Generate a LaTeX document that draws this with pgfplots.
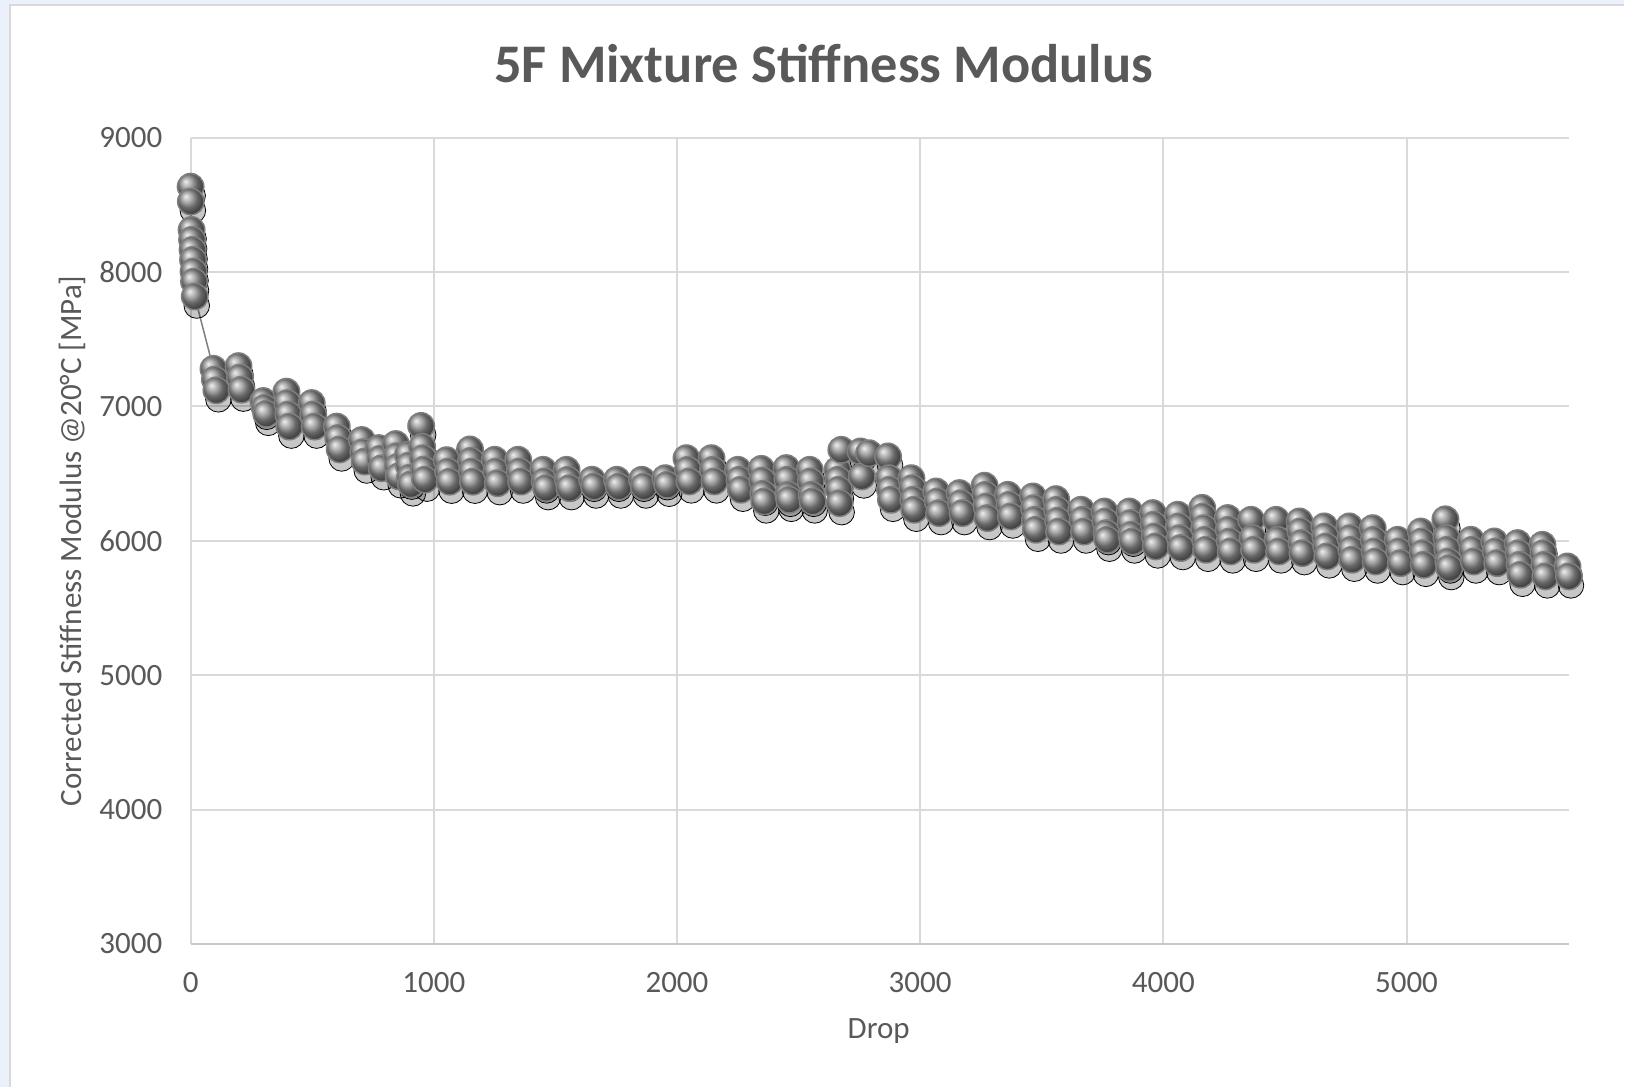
\documentclass[border=0pt]{standalone}
\usepackage{fontspec}
\setmainfont{Carlito}
\usepackage{pgfplots}
\pgfplotsset{compat=1.18}
\usepackage{pgfplotstable}
\definecolor{txt}{HTML}{595959}
\definecolor{gridc}{HTML}{D9D9D9}
\definecolor{axisc}{HTML}{C8C8C8}
\definecolor{framec}{HTML}{EAF1FA}
\definecolor{linec}{HTML}{7F7F7F}

% drop vs corrected stiffness modulus
\pgfplotstableread{
x y
0 8636
1 8525
4 8314
6 8240
8 8165
10 8091
12 8004
14 7929
17 7818
94 7280
100 7200
106 7120
197 7300
203 7215
209 7125
299 7040
305 6990
311 6945
394 7110
398 7025
402 6940
406 6850
498 7025
504 6940
510 6850
601 6850
607 6765
613 6680
704 6750
710 6660
716 6590
774 6690
780 6610
786 6540
844 6720
848 6630
852 6550
856 6480
894 6640
898 6560
902 6470
906 6420
948 6855
952 6700
956 6615
960 6530
964 6455
1053 6600
1059 6515
1065 6440
1149 6680
1153 6595
1157 6515
1161 6440
1251 6603
1257 6516
1263 6429
1347 6603
1353 6516
1359 6441
1450 6528
1456 6442
1462 6392
1546 6528
1552 6454
1558 6392
1651 6454
1659 6404
1753 6454
1761 6404
1856 6454
1864 6404
1952 6466
1960 6417
2039 6615
2045 6528
2051 6442
2142 6615
2148 6528
2154 6442
2251 6528
2257 6454
2263 6380
2347 6535
2351 6448
2355 6350
2359 6293
2450 6541
2454 6454
2458 6342
2462 6305
2546 6528
2550 6442
2554 6342
2558 6293
2660 6528
2663 6454
2666 6380
2669 6280
2676 6677
2755 6665
2760 6479
2790 6652
2868 6628
2872 6466
2876 6380
2880 6305
2964 6466
2968 6392
2972 6305
2976 6231
3066 6367
3072 6293
3078 6206
3162 6355
3168 6280
3174 6206
3265 6410
3269 6342
3273 6255
3277 6169
3361 6342
3367 6268
3373 6181
3464 6330
3468 6243
3472 6156
3476 6082
3559 6310
3563 6231
3567 6150
3571 6069
3662 6231
3668 6156
3674 6069
3758 6218
3762 6144
3766 6057
3770 6008
3861 6218
3865 6132
3869 6045
3873 5995
3957 6206
3961 6119
3965 6032
3969 5958
4060 6194
4064 6107
4068 6020
4072 5946
4160 6245
4164 6181
4168 6094
4172 6007
4176 5933
4265 6169
4269 6082
4273 5995
4277 5921
4361 6156
4367 6020
4373 5933
4464 6156
4470 6007
4476 5921
4560 6144
4564 6070
4568 5983
4572 5908
4662 6107
4666 6032
4670 5958
4674 5884
4765 6107
4769 6020
4773 5933
4777 5859
4861 6094
4865 6007
4869 5921
4873 5846
4964 6007
4970 5921
4976 5834
5059 6069
5063 5995
5067 5908
5071 5821
5160 6160
5164 6020
5168 5933
5172 5846
5176 5797
5265 6007
5271 5933
5277 5846
5361 5995
5367 5921
5373 5834
5457 5983
5461 5908
5465 5821
5469 5747
5559 5970
5563 5908
5567 5821
5571 5735
5662 5809
5668 5735
}\stiff

\begin{document}
\begin{tikzpicture}[x=1pt,y=1pt]
% chart frame
\fill[framec] (0,0) rectangle (812.5,543.5);
\fill[white] (5,0) rectangle (812.5,541);
\draw[gridc, line width=0.6pt] (5,0) -- (5,541) -- (812.5,541);

\begin{axis}[
    at={(95.35pt,71.4pt)}, anchor=south west,
    scale only axis, width=689.65pt, height=403.2pt,
    xmin=0, xmax=5670, ymin=3000, ymax=9000,
    xtick={0,1000,...,5000}, ytick={3000,4000,...,9000},
    axis x line*=bottom, axis y line*=left,
    x axis line style={draw=axisc, line width=1pt},
    y axis line style={draw=none},
    major tick length=0pt,
    grid=major, major grid style={draw=gridc, line width=1pt},
    tick label style={font=\fontsize{15.5}{18}\selectfont, text=txt},
    /pgf/number format/assume math mode=true,
    /pgf/number format/1000 sep={},
    xticklabel style={inner sep=0pt, yshift=-14pt},
    yticklabel style={inner sep=0pt, xshift=-14pt},
    clip=false,
]
% shadow under the markers
\addplot[only marks, mark=*, mark size=6.4pt,
    mark options={draw=none, fill=black, fill opacity=0.22, xshift=1pt, yshift=-4.5pt}] table {\stiff};
\addplot[draw=linec, line width=0.75pt, mark=ball, mark size=6.6pt,
    mark options={ball color=gray!85}] table {\stiff};
\end{axis}

\node[text=txt, font=\fontsize{27.2}{32}\selectfont\bfseries] at (412,511.5) {5F Mixture Stiffness Modulus};
\node[text=txt, font=\fontsize{15.5}{18}\selectfont] at (439.5,28) {Drop};
\node[text=txt, font=\fontsize{15.5}{18}\selectfont, rotate=90] at (36,273) {Corrected Stiffness Modulus @20°C [MPa]};
\end{tikzpicture}
\end{document}
